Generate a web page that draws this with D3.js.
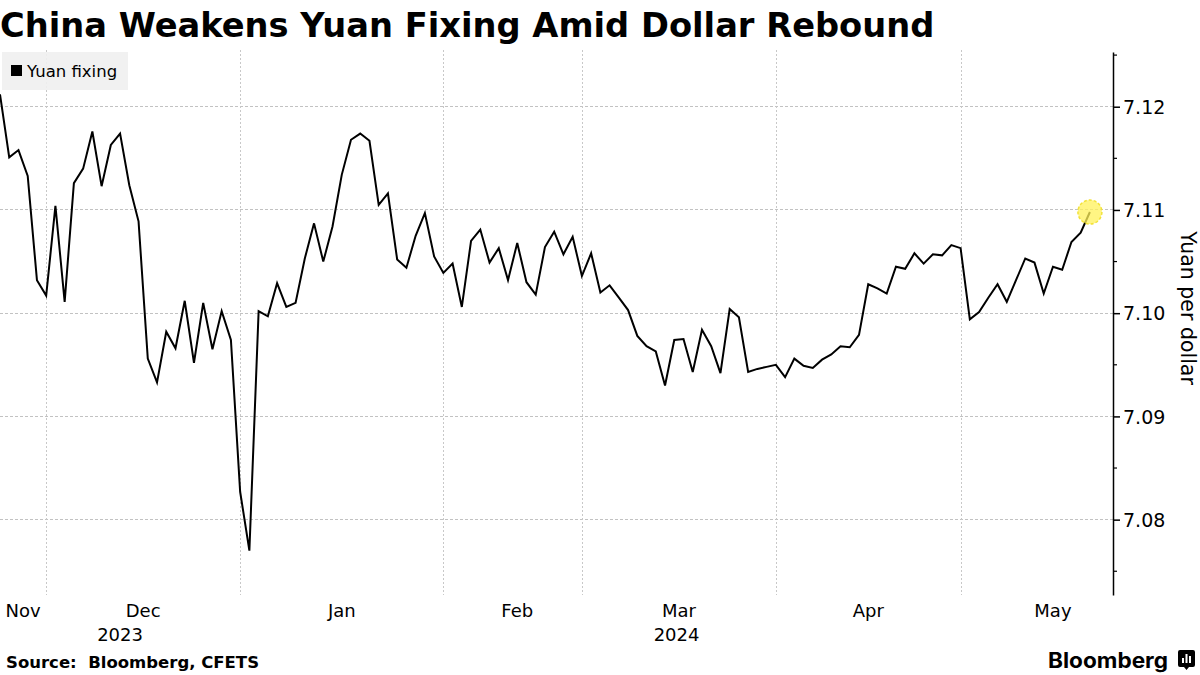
<!DOCTYPE html>
<html>
<head>
<meta charset="utf-8">
<script src="https://cdn.jsdelivr.net/npm/d3@7"></script>
<style>
  html, body { margin: 0; padding: 0; background: #fff; }
  svg { display: block; }
</style>
</head>
<body>
<svg id="chart" width="1200" height="675"></svg>
<script>
// ---------------- data ----------------
const seriesName = "Yuan fixing";
// daily fixings (trading days, late Nov 2023 – late May 2024)
const fixing = [
  7.1212, 7.1151, 7.1158, 7.1133, 7.1032,
  7.1017, 7.1104, 7.1011, 7.1126, 7.1140, 7.1176, 7.1123, 7.1163, 7.1174, 7.1124,
  7.1089, 7.0956, 7.0933, 7.0982, 7.0966, 7.1012, 7.0952, 7.1010, 7.0965, 7.1002, 7.0974,
  7.0827, 7.0770, 7.1002, 7.0997, 7.1029, 7.1006, 7.1010, 7.1053, 7.1087, 7.1050, 7.1084,
  7.1134, 7.1168, 7.1174, 7.1167, 7.1105, 7.1116, 7.1052, 7.1044, 7.1075, 7.1097, 7.1055,
  7.1039, 7.1048, 7.1006, 7.1070, 7.1081, 7.1049, 7.1063, 7.1032, 7.1068, 7.1030, 7.1018,
  7.1064, 7.1079, 7.1057, 7.1074,
  7.1036, 7.1058, 7.1020, 7.1027, 7.1015, 7.1003, 7.0978, 7.0968, 7.0963, 7.0930, 7.0974,
  7.0975, 7.0943, 7.0984, 7.0968, 7.0942, 7.1004, 7.0996, 7.0943, 7.0946, 7.0948,
  7.0950, 7.0938, 7.0956, 7.0949, 7.0947, 7.0955, 7.0960, 7.0968, 7.0967, 7.0979, 7.1028,
  7.1024, 7.1019, 7.1045, 7.1043, 7.1058, 7.1048, 7.1057, 7.1056, 7.1066, 7.1063,
  7.0994, 7.1001, 7.1015, 7.1028, 7.1011, 7.1032, 7.1053, 7.1049, 7.1019, 7.1045, 7.1042,
  7.1069, 7.1078, 7.1098
];
const monthNames = ["Nov", "Dec", "Jan", "Feb", "Mar", "Apr", "May"];
const monthStartIdx = [0, 5, 26, 48, 63, 84, 104];   // first trading day of each month
const monthEndIdx   = [5, 26, 48, 64, 84, 104, 124]; // label span end (next month start)
const yearLabels = ["2023", "2024"];
const yearStartIdx = [0, 26];
const yTicks = [7.08, 7.09, 7.10, 7.11, 7.12];
const yMinorTicks = [7.075, 7.085, 7.095, 7.105, 7.115, 7.125];
const yDomain = [7.0727, 7.1253];
const xDomain = [0, 120.5];
const titleText = "China Weakens Yuan Fixing Amid Dollar Rebound";
const sourceText = "Source:  Bloomberg, CFETS";
const yAxisTitle = "Yuan per dollar";

// ---------------- layout ----------------
const svg = d3.select("#chart");
const plot = { left: 0, right: 1113, top: 52, bottom: 595 };

const x = d3.scaleLinear().domain(xDomain).range([plot.left, plot.right]);
const y = d3.scaleLinear().domain(yDomain).range([plot.bottom, plot.top]);

const FONT = "'DejaVu Sans', Verdana, sans-serif";

// title
svg.append("text")
  .attr("x", 0).attr("y", 37)
  .attr("font-family", FONT).attr("font-weight", "bold")
  .attr("font-size", 33.7).attr("fill", "#000")
  .text(titleText);

// horizontal gridlines
svg.append("g").selectAll("line").data(yTicks).join("line")
  .attr("x1", plot.left).attr("x2", plot.right)
  .attr("y1", d => y(d)).attr("y2", d => y(d))
  .attr("stroke", "#c2c2c2").attr("stroke-width", 1)
  .attr("stroke-dasharray", "3,2")
  .attr("shape-rendering", "crispEdges");

// vertical gridlines at month boundaries
svg.append("g").selectAll("line").data(monthStartIdx.slice(1)).join("line")
  .attr("x1", d => Math.round(x(d)) + 0.5).attr("x2", d => Math.round(x(d)) + 0.5)
  .attr("y1", 50).attr("y2", plot.bottom)
  .attr("stroke", "#c8c8c8").attr("stroke-width", 1)
  .attr("stroke-dasharray", "2,2");

// legend
const lg = svg.append("g");
lg.append("rect").attr("x", 2).attr("y", 52).attr("width", 126).attr("height", 38)
  .attr("fill", "#f0f0f0").attr("fill-opacity", 0.9);
lg.append("rect").attr("x", 11).attr("y", 65).attr("width", 11).attr("height", 11).attr("fill", "#000");
lg.append("text").attr("x", 27).attr("y", 77)
  .attr("font-family", FONT).attr("font-size", 16.5).attr("fill", "#000")
  .text(seriesName);

// line
const line = d3.line().x((d, i) => x(i)).y(d => y(d));
svg.append("path").datum(fixing)
  .attr("d", line)
  .attr("fill", "none").attr("stroke", "#000").attr("stroke-width", 2)
  .attr("stroke-linejoin", "miter");

// highlight last point
const lastI = fixing.length - 1;
svg.append("circle")
  .attr("cx", x(lastI)).attr("cy", y(fixing[lastI])).attr("r", 12)
  .attr("fill", "#fff25a").attr("fill-opacity", 0.75)
  .attr("stroke", "#f2e23a").attr("stroke-width", 1.5)
  .attr("stroke-dasharray", "3,2");

// y axis (right)
const yAxis = d3.axisRight(y).tickValues(yTicks).tickSize(7).tickSizeOuter(0)
  .tickFormat(d3.format(".2f"));
const gy = svg.append("g").attr("transform", `translate(${plot.right},0)`).call(yAxis);
gy.select(".domain").attr("stroke", "#000").attr("stroke-width", 1.5);
gy.selectAll(".tick line").attr("stroke", "#000").attr("stroke-width", 1.5);
gy.selectAll(".tick text").attr("font-family", FONT).attr("font-size", 19)
  .attr("fill", "#000").attr("x", 10).attr("dy", "0.35em");
svg.append("g").attr("transform", `translate(${plot.right},0)`)
  .selectAll("line").data(yMinorTicks).join("line")
  .attr("x1", 0).attr("x2", 4).attr("y1", d => y(d)).attr("y2", d => y(d))
  .attr("stroke", "#000").attr("stroke-width", 1.2);

// y axis title
svg.append("text")
  .attr("transform", `translate(1181, 308) rotate(90)`)
  .attr("text-anchor", "middle")
  .attr("font-family", FONT).attr("font-size", 20.5).attr("fill", "#000")
  .text(yAxisTitle);

// x month labels
svg.append("g").selectAll("text").data(monthNames).join("text")
  .attr("x", (d, i) => x((monthStartIdx[i] + monthEndIdx[i]) / 2))
  .attr("y", 617)
  .attr("text-anchor", "middle")
  .attr("font-family", FONT).attr("font-size", 18).attr("fill", "#000")
  .text(d => d);

// year labels
const yearEnd = [yearStartIdx[1], xDomain[1]];
svg.append("g").selectAll("text").data(yearLabels).join("text")
  .attr("x", (d, i) => x((yearStartIdx[i] + yearEnd[i]) / 2))
  .attr("y", 641)
  .attr("text-anchor", "middle")
  .attr("font-family", FONT).attr("font-size", 18).attr("fill", "#000")
  .text(d => d);

// source
svg.append("text")
  .attr("x", 6).attr("y", 668)
  .attr("font-family", FONT).attr("font-weight", "bold")
  .attr("font-size", 16.5).attr("fill", "#000")
  .attr("xml:space", "preserve").style("white-space", "pre")
  .text(sourceText);

// Bloomberg logo
svg.append("text")
  .attr("x", 1168).attr("y", 668)
  .attr("text-anchor", "end")
  .attr("font-family", "Inter, Roboto, sans-serif").attr("font-weight", 700)
  .attr("font-size", 21).attr("fill", "#000")
  .attr("textLength", 120).attr("lengthAdjust", "spacingAndGlyphs")
  .text("Bloomberg");
const logo = svg.append("g").attr("transform", "translate(1178,650)");
logo.append("path")
  .attr("d", "M2,0 H15 Q17,0 17,2 V15 Q17,17 15,17 H11 L8.5,20 L6,17 H2 Q0,17 0,15 V2 Q0,0 2,0 Z")
  .attr("fill", "#000");
[[4, 8, 2], [7.5, 4, 2], [11, 6, 2]].forEach(([bx, by, bw]) => {
  logo.append("rect").attr("x", bx).attr("y", by).attr("width", bw).attr("height", 13 - by).attr("fill", "#fff");
});
</script>
</body>
</html>
